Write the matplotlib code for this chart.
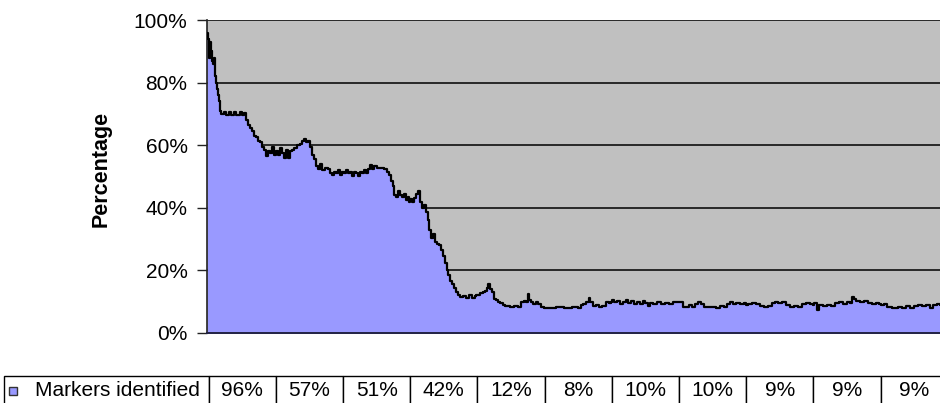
import numpy as np
import matplotlib
matplotlib.use("Agg")
import matplotlib.pyplot as plt
from matplotlib.patches import Rectangle

plt.rcParams['font.family'] = ['Liberation Sans', 'DejaVu Sans']

# share of markers identified per sample, 100 samples per table column
series_name = "Markers identified"
table_pct = [96, 57, 51, 42, 12, 8, 10, 10, 9, 9, 9]
samples_per_col = 100

trace_s = [1, 3, 4, 6, 7, 9, 10, 12, 13, 15, 16, 18, 19, 21, 25, 28, 33, 36, 40, 43,
           49, 52, 55, 58, 61, 64, 67, 70, 73, 76, 79, 82, 85, 88, 91, 94, 96, 99, 102, 105,
           108, 111, 114, 117, 120, 123, 126, 129, 134, 138, 141, 144, 147, 150, 153, 156, 159, 162, 165, 168,
           171, 175, 180, 183, 186, 189, 192, 194, 197, 201, 203, 206, 209, 212, 215, 218, 221, 224, 227, 230,
           233, 236, 239, 242, 245, 248, 252, 263, 267, 270, 273, 276, 278, 281, 284, 287, 289, 292, 295, 298,
           301, 304, 307, 310, 313, 316, 319, 322, 325, 328, 330, 333, 335, 338, 341, 344, 347, 350, 353, 356,
           358, 361, 364, 367, 370, 373, 376, 380, 384, 389, 393, 398, 402, 405, 410, 413, 416, 417, 420, 423,
           426, 429, 432, 435, 439, 442, 450, 456, 462, 466, 471, 474, 477, 478, 481, 484, 488, 491, 496, 506,
           518, 530, 542, 551, 555, 558, 563, 567, 569, 573, 577, 582, 586, 592, 597, 601, 604, 609, 613, 618,
           622, 625, 629, 634, 638, 643, 647, 650, 655, 658, 662, 668, 674, 680, 686, 692, 698, 702, 706, 710,
           716, 720, 724, 729, 733, 738, 747, 756, 762, 767, 772, 776, 781, 785, 791, 797, 803, 809, 815, 821,
           827, 833, 839, 843, 848, 854, 860, 865, 871, 877, 883, 889, 895, 901, 906, 908, 914, 920, 926, 932,
           938, 944, 950, 955, 958, 960, 963, 969, 975, 981, 987, 993, 998, 1005, 1009, 1017, 1026, 1032, 1038, 1044,
           1050, 1055, 1061, 1067, 1073, 1078, 1084, 1088, 1100]
trace_pct = [94, 88, 93, 90, 87, 86, 88, 82, 80, 78, 76, 74, 71, 70, 70.5, 69.5, 70.5, 69.5, 70.5, 69.8,
             70.5, 69.8, 70.3, 68, 66.5, 65.5, 64.5, 63, 62.5, 61.5, 61, 59.5, 58.5, 56.5, 58, 57.5, 59.5, 57.5, 58, 57,
             59, 57.5, 56, 58.5, 56, 58, 58.5, 59, 60, 60.5, 61.5, 62, 61, 61.5, 59.5, 57, 55.5, 53.5, 52.5, 54,
             52, 52.8, 52.5, 51, 50.5, 51.5, 51, 52, 50.5, 51.5, 51, 52, 51, 51.5, 50.3, 51.5, 51, 50.2, 51.5, 51,
             52, 51, 52.5, 53.8, 52.5, 53.5, 52.8, 52.5, 51.5, 50.5, 48.5, 47, 44, 43.5, 45.5, 44, 43.5, 44.5, 42.5, 43.5,
             42.8, 42, 43, 44.5, 45.5, 42, 40, 41, 38.5, 36, 33, 30.5, 31.5, 29, 28.5, 28, 26.5, 24.5, 22.5, 20,
             18.5, 16.5, 15.5, 14.5, 13, 12.2, 11.5, 11.8, 11.2, 12, 11.3, 11.8, 12.3, 12.8, 13, 13.5, 14.5, 15.5, 14, 13.2,
             11, 10.5, 10, 9.5, 9, 8.5, 8.2, 8.6, 8.3, 9.8, 10.2, 10, 12.5, 10.5, 9.8, 9.2, 9.8, 9.2, 8.2, 8,
             8.2, 8, 8.3, 8, 8.8, 9.3, 10, 11.2, 9.8, 8.5, 9, 8.3, 8.6, 9.8, 9.6, 10.4, 9.8, 10.2, 9.4, 9.9,
             10.4, 9.6, 10.1, 9.2, 9.8, 9.4, 10.2, 9.5, 8.6, 9.6, 9.4, 9.8, 9.2, 9.6, 9.4, 9.9, 10, 9.9, 8.3, 8.2,
             8.8, 8.3, 9.3, 9.9, 9.3, 8.2, 8.4, 8.1, 8.5, 8.3, 9.4, 10, 9.3, 9.6, 9.2, 9.6, 9.3, 9.7, 9.2, 8.6,
             8.2, 8.7, 9.6, 10, 9.5, 9.8, 8.9, 8.3, 8.5, 8.2, 9.2, 9.6, 9.3, 9.6, 7.2, 8.8, 8.6, 9, 8.7, 9.5,
             9.8, 9.3, 9.9, 9.5, 11.5, 10.8, 10.2, 10, 10.3, 9.5, 9.2, 9.6, 9.2, 9.4, 8.2, 8, 8.2, 8, 8.6, 8.1,
             8.7, 8.9, 8.5, 9.1, 8.1, 8.9, 9.2, 8.8, 9]

# merge the tabulated points into the trace so the line passes through them
col_s = np.arange(len(table_pct)) * samples_per_col
x = np.concatenate([col_s, trace_s])
y = np.concatenate([table_pct, trace_pct])
order = np.argsort(x, kind="stable")
x, y = x[order], y[order]

fig = plt.figure(figsize=(9.4, 4.03), dpi=100)
ax = fig.add_axes([207 / 940, 70 / 403, 741 / 940, 313 / 403])
ax.set_facecolor("#c0c0c0")

ax.fill_between(x, y, 0, step="post", color="#9999ff", lw=0, zorder=2)
ax.step(x, y, where="post", color="black", lw=1.6, zorder=3)

ax.set_xlim(0, len(table_pct) * samples_per_col)
ax.set_ylim(0, 100)
ax.set_yticks(np.arange(0, 101, 20))
ax.set_yticklabels([f"{v}%" for v in range(0, 101, 20)])
ax.set_xticks([])
ax.tick_params(axis="y", length=7, width=1, color="#222222", labelsize=15, pad=7)
ax.yaxis.grid(True, color="black", lw=1.1, zorder=1)
ax.set_axisbelow(True)
for side in ["top", "right"]:
    ax.spines[side].set_visible(False)
ax.spines["left"].set_color("#222222")
ax.spines["left"].set_linewidth(1.2)
ax.spines["bottom"].set_color("#222244")
ax.spines["bottom"].set_linewidth(1.4)

ax.set_ylabel("Percentage", fontsize=15.5, fontweight="bold")
ax.yaxis.set_label_coords(-0.129, 0.525)

# data table under the plot
cells = [[series_name] + [f"{v}%" for v in table_pct]]
label_w = 204.6
col_w = 67.2
widths = [label_w] + [col_w] * len(table_pct)
total_w = sum(widths)
tab = ax.table(cellText=cells, colWidths=[w / total_w for w in widths],
               cellLoc="center", bbox=[-203 / 741, -73 / 313, total_w / 741, 30 / 313])
tab.auto_set_font_size(False)
tab.set_fontsize(15)
for (r, c), cell in tab.get_celld().items():
    cell.set_edgecolor("black")
    cell.set_linewidth(1.0)
    cell.set_facecolor("white")
    if c == 0:
        cell.set_text_props(ha="left")
        cell.PAD = 0.152

# legend key in front of the series name
ax.add_patch(Rectangle((-198 / 741, -62 / 313), 8 / 741, 8 / 313, transform=ax.transAxes,
                       facecolor="#9999ff", edgecolor="#333333", lw=1, clip_on=False, zorder=5))

fig.savefig("out.png", dpi=100)
